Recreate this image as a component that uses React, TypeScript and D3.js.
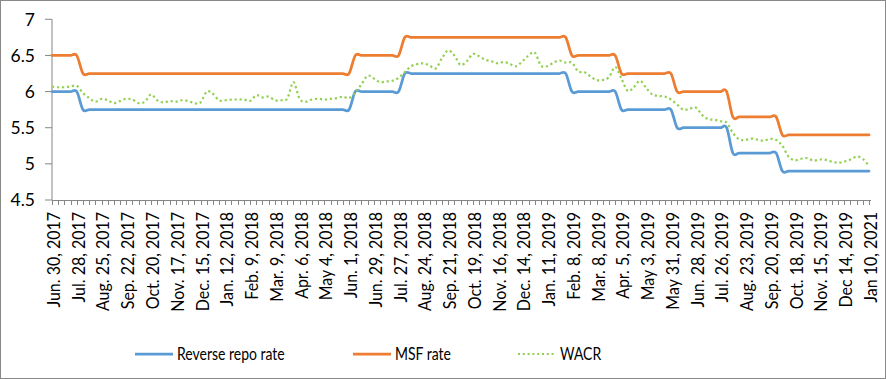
import React from "react";
import * as d3 from "d3";

const tickLabels = [
  "Jun. 30, 2017", "Jul. 28, 2017", "Aug. 25, 2017", "Sep. 22, 2017", "Oct. 20, 2017",
  "Nov. 17, 2017", "Dec. 15, 2017", "Jan. 12, 2018", "Feb. 9, 2018", "Mar. 9, 2018",
  "Apr. 6, 2018", "May 4, 2018", "Jun. 1, 2018", "Jun. 29, 2018", "Jul. 27, 2018",
  "Aug. 24, 2018", "Sep. 21, 2018", "Oct. 19, 2018", "Nov. 16, 2018", "Dec. 14, 2018",
  "Jan. 11, 2019", "Feb. 8, 2019", "Mar. 8, 2019", "Apr. 5, 2019", "May 3, 2019",
  "May 31, 2019", "Jun. 28, 2019", "Jul. 26, 2019", "Aug. 23, 2019", "Sep. 20, 2019",
  "Oct. 18, 2019", "Nov. 15, 2019", "Dec 14, 2019", "Jan 10, 2021",
];

const reverseRepo = [
  6.00, 6.00, 6.00, 6.00, 6.00, 5.75, 5.75, 5.75, 5.75, 5.75,
  5.75, 5.75, 5.75, 5.75, 5.75, 5.75, 5.75, 5.75, 5.75, 5.75,
  5.75, 5.75, 5.75, 5.75, 5.75, 5.75, 5.75, 5.75, 5.75, 5.75,
  5.75, 5.75, 5.75, 5.75, 5.75, 5.75, 5.75, 5.75, 5.75, 5.75,
  5.75, 5.75, 5.75, 5.75, 5.75, 5.75, 5.75, 5.75, 5.75, 6.00,
  6.00, 6.00, 6.00, 6.00, 6.00, 6.00, 6.00, 6.25, 6.25, 6.25,
  6.25, 6.25, 6.25, 6.25, 6.25, 6.25, 6.25, 6.25, 6.25, 6.25,
  6.25, 6.25, 6.25, 6.25, 6.25, 6.25, 6.25, 6.25, 6.25, 6.25,
  6.25, 6.25, 6.25, 6.25, 6.00, 6.00, 6.00, 6.00, 6.00, 6.00,
  6.00, 6.00, 5.75, 5.75, 5.75, 5.75, 5.75, 5.75, 5.75, 5.75,
  5.75, 5.50, 5.50, 5.50, 5.50, 5.50, 5.50, 5.50, 5.50, 5.50,
  5.15, 5.15, 5.15, 5.15, 5.15, 5.15, 5.15, 5.15, 4.90, 4.90,
  4.90, 4.90, 4.90, 4.90, 4.90, 4.90, 4.90, 4.90, 4.90, 4.90,
  4.90, 4.90, 4.90,
];

const msfRate = [
  6.50, 6.50, 6.50, 6.50, 6.50, 6.25, 6.25, 6.25, 6.25, 6.25,
  6.25, 6.25, 6.25, 6.25, 6.25, 6.25, 6.25, 6.25, 6.25, 6.25,
  6.25, 6.25, 6.25, 6.25, 6.25, 6.25, 6.25, 6.25, 6.25, 6.25,
  6.25, 6.25, 6.25, 6.25, 6.25, 6.25, 6.25, 6.25, 6.25, 6.25,
  6.25, 6.25, 6.25, 6.25, 6.25, 6.25, 6.25, 6.25, 6.25, 6.50,
  6.50, 6.50, 6.50, 6.50, 6.50, 6.50, 6.50, 6.75, 6.75, 6.75,
  6.75, 6.75, 6.75, 6.75, 6.75, 6.75, 6.75, 6.75, 6.75, 6.75,
  6.75, 6.75, 6.75, 6.75, 6.75, 6.75, 6.75, 6.75, 6.75, 6.75,
  6.75, 6.75, 6.75, 6.75, 6.50, 6.50, 6.50, 6.50, 6.50, 6.50,
  6.50, 6.50, 6.25, 6.25, 6.25, 6.25, 6.25, 6.25, 6.25, 6.25,
  6.25, 6.00, 6.00, 6.00, 6.00, 6.00, 6.00, 6.00, 6.00, 6.00,
  5.65, 5.65, 5.65, 5.65, 5.65, 5.65, 5.65, 5.65, 5.40, 5.40,
  5.40, 5.40, 5.40, 5.40, 5.40, 5.40, 5.40, 5.40, 5.40, 5.40,
  5.40, 5.40, 5.40,
];

const wacr = [
  6.07, 6.06, 6.06, 6.07, 6.08, 5.98, 5.91, 5.86, 5.90, 5.88,
  5.84, 5.87, 5.90, 5.89, 5.84, 5.86, 5.96, 5.88, 5.85, 5.87,
  5.86, 5.88, 5.87, 5.84, 5.85, 6.00, 5.97, 5.88, 5.88, 5.89,
  5.89, 5.89, 5.87, 5.95, 5.92, 5.93, 5.88, 5.88, 5.90, 6.13,
  5.90, 5.86, 5.89, 5.90, 5.89, 5.90, 5.91, 5.93, 5.91, 5.99,
  6.10, 6.22, 6.18, 6.13, 6.14, 6.15, 6.19, 6.27, 6.35, 6.38,
  6.39, 6.36, 6.32, 6.46, 6.57, 6.50, 6.37, 6.42, 6.52, 6.49,
  6.44, 6.42, 6.39, 6.41, 6.38, 6.35, 6.42, 6.50, 6.54, 6.36,
  6.35, 6.40, 6.43, 6.40, 6.40, 6.28, 6.27, 6.21, 6.16, 6.16,
  6.20, 6.34, 6.18, 6.01, 6.06, 6.15, 6.05, 5.96, 5.94, 5.93,
  5.89, 5.82, 5.75, 5.76, 5.78, 5.68, 5.62, 5.61, 5.59, 5.57,
  5.43, 5.34, 5.33, 5.35, 5.335, 5.32, 5.345, 5.33, 5.25, 5.10,
  5.05, 5.07, 5.08, 5.045, 5.06, 5.055, 5.03, 5.015, 5.03, 5.06,
  5.10, 5.07, 4.97,
];

const yTicks = [4.5, 5, 5.5, 6, 6.5, 7];
const seriesNames = ["Reverse repo rate", "MSF rate", "WACR"];
const seriesColors = ["#5B9BD5", "#ED7D31", "#92D050"];

export default function App() {
  const W = 886;
  const H = 379;
  const x = d3.scaleLinear().domain([0, wacr.length - 1]).range([52, 869]);
  const y = d3.scaleLinear().domain([4.5, 7]).range([200, 19.3]);
  const line = d3
    .line<number>()
    .x((_, i) => x(i))
    .y((d) => y(d))
    .curve(d3.curveCardinal.tension(0));

  const font = "Lato, 'Open Sans', sans-serif";
  const axisColor = "#868686";
  const idx = d3.range(wacr.length);

  const legendItems = [
    { name: seriesNames[0], color: seriesColors[0], x0: 135, dash: undefined as string | undefined },
    { name: seriesNames[1], color: seriesColors[1], x0: 353, dash: undefined },
    { name: seriesNames[2], color: seriesColors[2], x0: 518, dash: "2 2.8" },
  ];

  return (
    <svg
      width={W}
      height={H}
      style={{ position: "absolute", left: 0, top: 0, display: "block", background: "#fff" }}
      fontFamily={font}
    >
      <rect x={0.5} y={0.5} width={W - 1} height={H - 1} fill="#fff" stroke="#898989" strokeWidth={1} />

      {/* y axis */}
      <line x1={52} x2={52} y1={y(7)} y2={y(4.5)} stroke={axisColor} strokeWidth={1} />
      {yTicks.map((t) => (
        <g key={t}>
          <line x1={45} x2={52} y1={y(t)} y2={y(t)} stroke={axisColor} strokeWidth={1} />
          <text x={35} y={y(t)} dy="0.36em" textAnchor="end" fontSize={17.5} fill="#000">
            {t}
          </text>
        </g>
      ))}

      {/* x axis */}
      <line x1={52} x2={x(wacr.length - 1) + 2} y1={200.5} y2={200.5} stroke={axisColor} strokeWidth={1} />
      {idx.map((i) => (
        <line key={i} x1={Math.round(x(i)) + 0.5} x2={Math.round(x(i)) + 0.5} y1={200} y2={205} stroke={axisColor} strokeWidth={1} />
      ))}
      {tickLabels.map((lab, k) => {
        const xi = x(k * 4) + 1.5;
        return (
          <text
            key={lab + k}
            transform={`translate(${xi},212) rotate(-90) scale(1,1.12)`}
            dy="0.36em"
            textAnchor="end"
            fontSize={16}
            fill="#000"
          >
            {lab}
          </text>
        );
      })}

      {/* series */}
      <path d={line(reverseRepo) || ""} fill="none" stroke={seriesColors[0]} strokeWidth={2.75} strokeLinejoin="round" strokeLinecap="round" />
      <path d={line(msfRate) || ""} fill="none" stroke={seriesColors[1]} strokeWidth={2.75} strokeLinejoin="round" strokeLinecap="round" />
      <path d={line(wacr) || ""} fill="none" stroke={seriesColors[2]} strokeWidth={2.2} strokeDasharray="2.2 2.8" />

      {/* legend */}
      {legendItems.map((it) => (
        <g key={it.name}>
          <line
            x1={it.x0}
            x2={it.x0 + 38}
            y1={354}
            y2={354}
            stroke={it.color}
            strokeWidth={it.dash ? 2.2 : 2.75}
            strokeDasharray={it.dash}
          />
          <text
            transform={`translate(${it.x0 + 42},354) scale(1,1.25)`}
            dy="0.36em"
            fontSize={14}
            fill="#000"
          >
            {it.name}
          </text>
        </g>
      ))}
    </svg>
  );
}
